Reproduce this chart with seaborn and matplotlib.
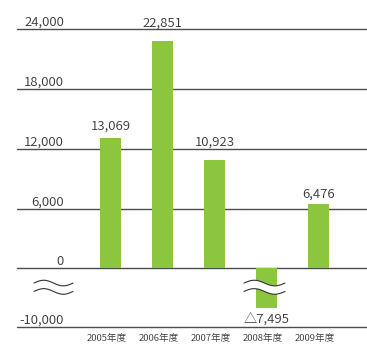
import numpy as np
import matplotlib
matplotlib.use("Agg")
import matplotlib.pyplot as plt
from matplotlib.transforms import ScaledTranslation, IdentityTransform
import seaborn as sns

# Fiscal years and results
years = ["2005年度", "2006年度", "2007年度", "2008年度", "2009年度"]
profit = [13069, 22851, 10923, -7495, 6476]
y_ticks = [-10000, 0, 6000, 12000, 18000, 24000]
y_tick_labels = ["-10,000", "0", "6,000", "12,000", "18,000", "24,000"]

# distance (px) from each bar end to its value label baseline
label_gap_px = [8, 14, 13.5, 15.3, 6]

sns.set_theme(style="white")
plt.rcParams["font.family"] = ["Noto Sans CJK JP", "DejaVu Sans"]

DPI = 100
W, H = 367, 344
PT = 72 / DPI  # points per pixel
BAR = "#8cc63f"
GRID = "#4d4d4d"
TEXT = "#383838"
FS = 9.5
WEIGHT = 350

fig = plt.figure(figsize=(W / DPI, H / DPI), dpi=DPI)
fig.patch.set_facecolor("white")
ax = fig.add_axes([17 / W, (H - 326.7) / H, 350 / W, (326.7 - 29.3) / H])

sns.barplot(x=years, y=profit, color=BAR, saturation=1, width=0.404,
            ax=ax, zorder=2, linewidth=0, edgecolor=BAR)

# broken value axis: the negative side is compressed around the break
val_knots = [-1e6, -10000, -6000, -1200, 0, 1e6]
disp_knots = [-5870 - 0.7625 * 990000, -5870, -2820, -1200, 0, 1e6]


def fwd(v):
    return np.interp(v, val_knots, disp_knots)


def inv(d):
    return np.interp(d, disp_knots, val_knots)


ax.set_yscale("function", functions=(fwd, inv))
ax.set_ylim(-10000, 24000)
ax.set_xlim(-1.798, 4.933)
ax.set_yticks(y_ticks)
ax.grid(False)
for v in y_ticks:
    ax.axhline(v, color=GRID, linewidth=1.0, zorder=1, clip_on=False)

for s in ax.spines.values():
    s.set_visible(False)
ax.set_xlabel("")
ax.set_ylabel("")
ax.tick_params(axis="y", left=False, labelleft=False)
ax.tick_params(axis="x", bottom=False, length=0, pad=5.4,
               labelsize=6.9, labelcolor=TEXT)
for lab in ax.get_xticklabels():
    lab.set_fontweight(WEIGHT)
    lab.set_transform(lab.get_transform()
                      + ScaledTranslation(-4 / DPI, 0, fig.dpi_scale_trans))

# value-axis labels sit just above their lines
for v, lab in zip(y_ticks, y_tick_labels):
    ax.annotate(lab, xy=(47 / 350, v), xycoords=ax.get_yaxis_transform(),
                xytext=(0, 3.2 * PT), textcoords="offset points",
                ha="right", va="baseline", fontsize=FS, color=TEXT,
                fontweight=WEIGHT, annotation_clip=False)

# value labels on the bars
for i, (v, gap) in enumerate(zip(profit, label_gap_px)):
    if v >= 0:
        txt, dy = f"{v:,}", gap * PT
    else:
        txt, dy = f"△{abs(v):,}", -gap * PT
    ax.annotate(txt, xy=(i, v), xytext=(0, dy), textcoords="offset points",
                ha="center", va="baseline", fontsize=FS, color=TEXT,
                fontweight=WEIGHT, annotation_clip=False)

# axis-break marks (double wave) on the axis and across the negative bar
zero_x, zero_y = ax.transData.transform((0, 0))
ax_left = ax.transAxes.transform((0, 0))[0]
neg_idx = int(np.argmin(profit))
bar_x = ax.transData.transform((neg_idx, 0))[0]

t = np.linspace(0, 1, 80)


def wave(cx, width, cy, amp=2.8):
    return cx - width / 2 + width * t, cy + amp * np.sin(2 * np.pi * t)


def break_mark(cx, width, knockout):
    xu, yu = wave(cx, width, zero_y - 14.8)
    xl, yl = wave(cx, width, zero_y - 23.2)
    ident = IdentityTransform()
    if knockout:
        ax.fill(np.r_[xu, xl[::-1]], np.r_[yu, yl[::-1]], color="white",
                transform=ident, zorder=3, clip_on=False, lw=0)
    for xs, ys in ((xu, yu), (xl, yl)):
        ax.plot(xs, ys, color="#333333", lw=0.8, transform=ident,
                zorder=4, clip_on=False)


break_mark(ax_left + 36.5, 39, knockout=False)
break_mark(bar_x - 2, 41, knockout=True)

fig.savefig("out.png", dpi=DPI, facecolor="white")
